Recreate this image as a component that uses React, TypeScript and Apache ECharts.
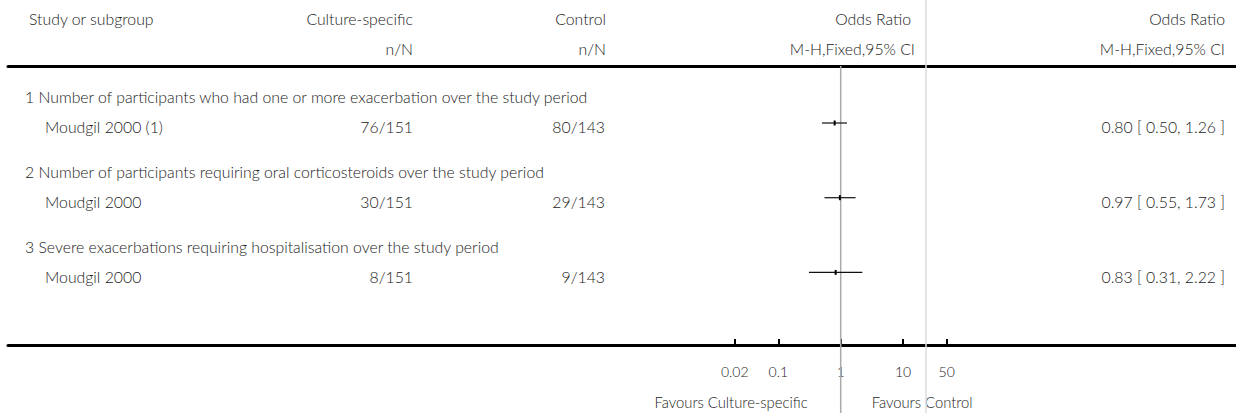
import React, { useEffect, useRef } from "react";
import * as echarts from "echarts";

const headings = [
  "1 Number of participants who had one or more exacerbation over the study period",
  "2 Number of participants requiring oral corticosteroids over the study period",
  "3 Severe exacerbations requiring hospitalisation over the study period",
];
const studies = ["Moudgil 2000 (1)", "Moudgil 2000", "Moudgil 2000"];
const treatmentCounts = ["76/151", "30/151", "8/151"];
const controlCounts = ["80/143", "29/143", "9/143"];
const oddsRatios = [0.8, 0.97, 0.83];
const ciLow = [0.5, 0.55, 0.31];
const ciHigh = [1.26, 1.73, 2.22];
const tickValues = [0.02, 0.1, 1, 10, 50];
const tickLabels = ["0.02", "0.1", "1", "10", "50"];
const favourLeft = "Favours Culture-specific";
const favourRight = "Favours Control";

const FONT = "300 15.8px Lato";
const SMALL_FONT = "300 14.8px Lato";
const TXT = "#222";

export default function App() {
  const ref = useRef<HTMLDivElement>(null);
  useEffect(() => {
    if (!ref.current) return;
    const chart = echarts.init(ref.current, undefined, { renderer: "svg" });
    const XMIN = -13.345;
    const XMAX = 6.335;
    const YMIN = -0.763;
    const YMAX = 2.972;
    const tickLogs = tickValues.map((v) => Math.log10(v));
    const data = oddsRatios.map((or, i) => [
      Math.log10(ciLow[i]),
      Math.log10(ciHigh[i]),
      Math.log10(or),
      i,
    ]);
    chart.setOption({
      animation: false,
      grid: { left: 8, right: 0, top: 66, bottom: 68, outerBoundsMode: "none" },
      xAxis: [
        {
          type: "value",
          min: XMIN,
          max: XMAX,
          position: "bottom",
          axisLine: { show: true, onZero: false, lineStyle: { color: "#000", width: 3 } },
          axisTick: {
            show: true,
            inside: true,
            length: 6,
            customValues: tickLogs,
            lineStyle: { color: "#000", width: 2 },
          },
          axisLabel: {
            show: true,
            customValues: tickLogs,
            margin: 19,
            color: TXT,
            fontFamily: "Lato",
            fontWeight: 300,
            fontSize: 14,
            formatter: (v: number) => {
              let best = 0;
              tickLogs.forEach((t, i) => {
                if (Math.abs(t - v) < Math.abs(tickLogs[best] - v)) best = i;
              });
              return tickLabels[best];
            },
          },
          splitLine: { show: false },
        },
        {
          type: "value",
          min: XMIN,
          max: XMAX,
          position: "top",
          axisLine: { show: true, onZero: false, lineStyle: { color: "#000", width: 3 } },
          axisTick: { show: false },
          axisLabel: { show: false },
          splitLine: { show: false },
        },
      ],
      yAxis: { type: "value", inverse: true, min: YMIN, max: YMAX, show: false },
      series: [
        {
          type: "custom",
          xAxisIndex: 0,
          data,
          z: 5,
          renderItem: (params: any, api: any) => {
            const lo = api.coord([api.value(0), api.value(3)]);
            const hi = api.coord([api.value(1), api.value(3)]);
            const pt = api.coord([api.value(2), api.value(3)]);
            return {
              type: "group",
              children: [
                {
                  type: "line",
                  shape: { x1: lo[0], y1: lo[1], x2: hi[0], y2: hi[1] },
                  style: { stroke: "#111", lineWidth: 1.2 },
                },
                {
                  type: "rect",
                  shape: { x: pt[0] - 1, y: pt[1] - 2.5, width: 2, height: 5 },
                  style: { fill: "#000" },
                },
              ],
            };
          },
        },
      ],
    });

    const x1 = chart.convertToPixel({ xAxisIndex: 0 }, 0) as number;
    const rowY = (i: number) => chart.convertToPixel({ yAxisIndex: 0 }, i) as number;
    const t = (text: string, x: number, y: number, align: string, font = FONT) => ({
      type: "text",
      x,
      y,
      silent: true,
      style: { text, fill: TXT, font, align, verticalAlign: "middle" },
    });
    const g: any[] = [
      {
        type: "line",
        shape: { x1: 926, y1: 0, x2: 926, y2: 413 },
        style: { stroke: "#ddd", lineWidth: 1.5 },
        z: 1,
      },
      {
        type: "line",
        shape: { x1: x1, y1: 66, x2: x1, y2: 413 },
        style: { stroke: "#aaa", lineWidth: 1.5 },
        z: 1,
      },
      t("Study or subgroup", 29, 18, "left"),
      t("Culture-specific", 413, 18, "right"),
      t("n/N", 413, 48, "right"),
      t("Control", 606, 18, "right"),
      t("n/N", 606, 48, "right"),
      t("Odds Ratio", 911, 18, "right"),
      t("M-H,Fixed,95% CI", 915, 48, "right"),
      t("Odds Ratio", 1225, 18, "right"),
      t("M-H,Fixed,95% CI", 1225, 48, "right"),
      t(favourLeft, x1 - 33, 402, "right", SMALL_FONT),
      t(favourRight, x1 + 31, 402, "left", SMALL_FONT),
    ];
    headings.forEach((h, i) => {
      const y = rowY(i);
      g.push(t(h, 25, y - 26, "left"));
      g.push(t(studies[i], 45, y + 4, "left"));
      g.push(t(treatmentCounts[i], 413, y + 4, "right"));
      g.push(t(controlCounts[i], 605, y + 4, "right"));
      g.push(
        t(
          `${oddsRatios[i].toFixed(2)} [ ${ciLow[i].toFixed(2)}, ${ciHigh[i].toFixed(2)} ]`,
          1225,
          y + 4,
          "right"
        )
      );
    });
    chart.setOption({ graphic: g });
    return () => chart.dispose();
  }, []);
  return (
    <div
      ref={ref}
      style={{ position: "fixed", left: 0, top: 0, width: 1236, height: 413, background: "#fff" }}
    />
  );
}
